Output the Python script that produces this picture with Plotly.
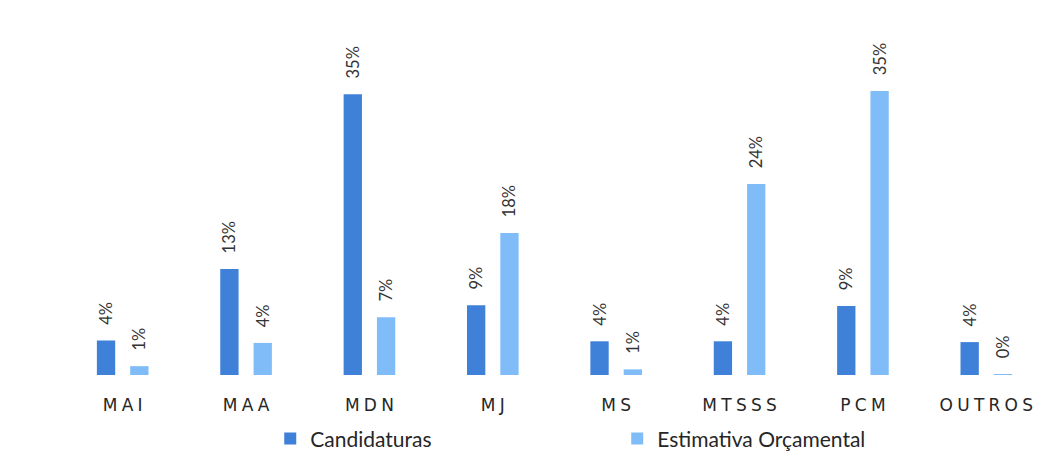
import plotly.graph_objects as go

categories = ["MAI", "MAA", "MDN", "MJ", "MS", "MTSSS", "PCM", "OUTROS"]
sp = "\u2005"
tick_labels = [sp.join(c) for c in categories]
candidaturas = [4.3, 13.2, 35.0, 8.7, 4.2, 4.2, 8.6, 4.1]
estimativa = [1.1, 4.0, 7.2, 17.7, 0.7, 23.8, 35.4, 0.1]
cand_labels = ["4%", "13%", "35%", "9%", "4%", "4%", "9%", "4%"]
est_labels = ["1%", "4%", "7%", "18%", "1%", "24%", "35%", "0%"]

pad = "\u00a0\u00a0\u00a0"

fig = go.Figure()
fig.add_trace(go.Bar(
    x=categories, y=candidaturas, name="Candidaturas",
    marker=dict(color="#3F80D9", line=dict(width=0)),
    text=[pad + t for t in cand_labels], textposition="outside", textangle=-90,
    constraintext="none",
    textfont=dict(family="Lato", size=16.5, color="#333333"), cliponaxis=False,
))
fig.add_trace(go.Bar(
    x=categories, y=estimativa, name="Estimativa Orçamental",
    marker=dict(color="#80BDF8", line=dict(width=0)),
    text=[pad + t for t in est_labels], textposition="outside", textangle=-90,
    constraintext="none",
    textfont=dict(family="Lato", size=16.5, color="#333333"), cliponaxis=False,
))

fig.update_layout(
    width=1055, height=465,
    margin=dict(l=53, r=15, t=46, b=98, autoexpand=False),
    paper_bgcolor="white", plot_bgcolor="white",
    barmode="group", bargap=0.46, bargroupgap=0.45,
    showlegend=True,
    legend=dict(orientation="h", x=0.212, xanchor="left", y=-0.135, yanchor="top",
                font=dict(family="Lato", size=21, color="#262626"),
                entrywidth=302, entrywidthmode="pixels", itemwidth=30),
)
fig.update_xaxes(tickmode="array", tickvals=categories, ticktext=tick_labels,
                 showline=False, showgrid=False, ticks="", ticklabelstandoff=18,
                 tickfont=dict(family="DejaVu Sans", size=17, color="#262626"))
fig.update_yaxes(range=[0, 40], visible=False, showgrid=False)

fig.write_html("out.html")
